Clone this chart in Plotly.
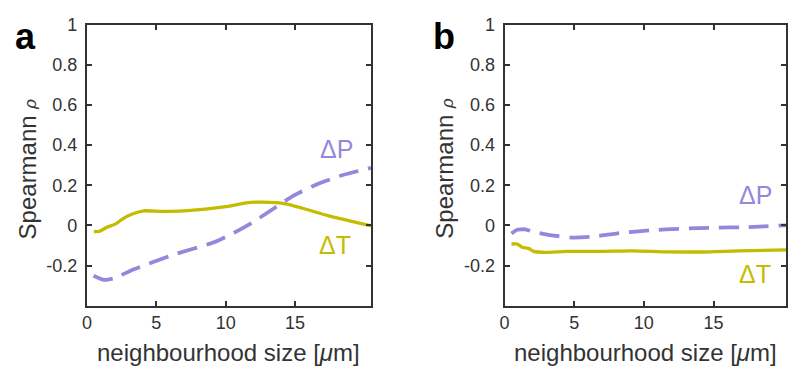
import plotly.graph_objects as go

# ---- data (panel a) ----
a_dT_x = [0.5, 0.85, 1.47, 2.07, 2.55, 3.26, 4.09, 5.52, 7.9, 10.29, 11.47, 12.66, 14.33, 15.52, 17.43, 18.86, 20.47]
a_dT_y = [-0.03, -0.03, -0.008, 0.008, 0.032, 0.057, 0.073, 0.07, 0.078, 0.097, 0.113, 0.116, 0.108, 0.086, 0.048, 0.024, -0.002]
a_dP_x = [0.47, 1.24, 1.95, 3.38, 6.24, 9.1, 10.5, 11.95, 13.38, 14.8, 16.47, 18.38, 20.47]
a_dP_y = [-0.25, -0.271, -0.263, -0.218, -0.145, -0.085, -0.04, 0.016, 0.081, 0.145, 0.202, 0.25, 0.287]

# ---- data (panel b) ----
b_dP_x = [0.5, 0.9, 1.49, 2.08, 3.27, 4.93, 6.35, 8.0, 10.38, 12.74, 15.1, 17.48, 20.47]
b_dP_y = [-0.04, -0.021, -0.019, -0.032, -0.048, -0.06, -0.056, -0.04, -0.024, -0.016, -0.011, -0.008, 0.002]
b_dT_x = [0.5, 0.9, 1.26, 1.73, 2.08, 2.91, 4.45, 6.82, 9.19, 11.56, 14.17, 16.77, 20.47]
b_dT_y = [-0.092, -0.092, -0.108, -0.114, -0.129, -0.134, -0.129, -0.129, -0.126, -0.131, -0.132, -0.126, -0.121]

x_ticks = [0, 5, 10, 15]
y_ticks = [-0.2, 0, 0.2, 0.4, 0.6, 0.8, 1]
y_ticklabels = ["-0.2", "0", "0.2", "0.4", "0.6", "0.8", "1"]
x_title = "neighbourhood size [<i>μ</i>m]"
y_title = "Spearmann <i><span style='font-size:17px'>ρ</span></i>"
panel_labels = ["a", "b"]
series_labels = ["ΔP", "ΔT"]

C_P = "#9487DC"
C_T = "#C4BC00"
AX = "#333333"
FONT = "Liberation Sans, Arial, sans-serif"

W, H = 788, 373

fig = go.Figure()
fig.add_trace(go.Scatter(x=a_dT_x, y=a_dT_y, mode="lines", line=dict(color=C_T, width=3.3, shape="spline", smoothing=0.5), xaxis="x", yaxis="y", hoverinfo="skip"))
fig.add_trace(go.Scatter(x=a_dP_x, y=a_dP_y, mode="lines", line=dict(color=C_P, width=3.8, dash="20px,10px", shape="spline", smoothing=0.5), xaxis="x", yaxis="y", hoverinfo="skip"))
fig.add_trace(go.Scatter(x=b_dT_x, y=b_dT_y, mode="lines", line=dict(color=C_T, width=3.3, shape="spline", smoothing=0.5), xaxis="x2", yaxis="y2", hoverinfo="skip"))
fig.add_trace(go.Scatter(x=b_dP_x, y=b_dP_y, mode="lines", line=dict(color=C_P, width=3.8, dash="20px,10px", shape="spline", smoothing=0.5), xaxis="x2", yaxis="y2", hoverinfo="skip"))

ydom = [(H - 304) / H, (H - 15) / H]
xdom_a = [82.7 / W, 369.3 / W]
xdom_b = [504 / W, 1.0]

def xax(domain, rng, anchor):
    return dict(domain=domain, range=rng, anchor=anchor, tickvals=x_ticks, ticktext=[str(t) for t in x_ticks],
                ticks="inside", ticklen=5, tickwidth=2, tickcolor=AX, showline=True, linewidth=2, linecolor=AX,
                mirror="ticks", showgrid=False, zeroline=False, ticklabelstandoff=0,
                tickfont=dict(family=FONT, size=18, color=AX))

def yax(anchor):
    return dict(domain=ydom, range=[-0.4, 1], anchor=anchor, tickvals=y_ticks, ticktext=y_ticklabels,
                ticks="inside", ticklen=5, tickwidth=2, tickcolor=AX, showline=True, linewidth=2, linecolor=AX,
                mirror="ticks", showgrid=False, zeroline=False, ticklabelstandoff=4,
                tickfont=dict(family=FONT, size=18, color=AX))

fig.update_layout(
    width=W, height=H, margin=dict(l=0, r=0, t=0, b=0),
    paper_bgcolor="white", plot_bgcolor="white", showlegend=False,
    xaxis=xax(xdom_a, [0, 20.47], "y"), yaxis=yax("x"),
    xaxis2=xax(xdom_b, [0, 20.2], "y2"), yaxis2=yax("x2"),
    font=dict(family=FONT, color=AX),
)

ann = []
# axis titles
for cx in [226, 646]:
    ann.append(dict(text=x_title, x=cx / W, y=(H - 352) / H, xref="paper", yref="paper", showarrow=False,
                    xanchor="center", yanchor="middle", font=dict(family=FONT, size=24, color=AX)))
for cx in [23, 444]:
    ann.append(dict(text=y_title, x=cx / W, y=(H - 163) / H, xref="paper", yref="paper", showarrow=False,
                    textangle=-90, xanchor="center", yanchor="middle", font=dict(family=FONT, size=24, color=AX)))
# panel labels
for (px, lab) in [(21, panel_labels[0]), (443, panel_labels[1])]:
    ann.append(dict(text="<b>" + lab + "</b>", x=px / W, y=(H - 27) / H, xref="paper", yref="paper", showarrow=False,
                    xanchor="center", yanchor="middle", font=dict(family=FONT, size=36, color="#000000")))
# series labels
ann.append(dict(text=series_labels[0], x=18.0, y=0.38, xref="x", yref="y", showarrow=False, font=dict(family=FONT, size=25, color=C_P)))
ann.append(dict(text=series_labels[1], x=17.9, y=-0.098, xref="x", yref="y", showarrow=False, font=dict(family=FONT, size=25, color=C_T)))
ann.append(dict(text=series_labels[0], x=18.0, y=0.153, xref="x2", yref="y2", showarrow=False, font=dict(family=FONT, size=25, color=C_P)))
ann.append(dict(text=series_labels[1], x=18.0, y=-0.243, xref="x2", yref="y2", showarrow=False, font=dict(family=FONT, size=25, color=C_T)))
fig.update_layout(annotations=ann)

fig.write_html("out.html")
